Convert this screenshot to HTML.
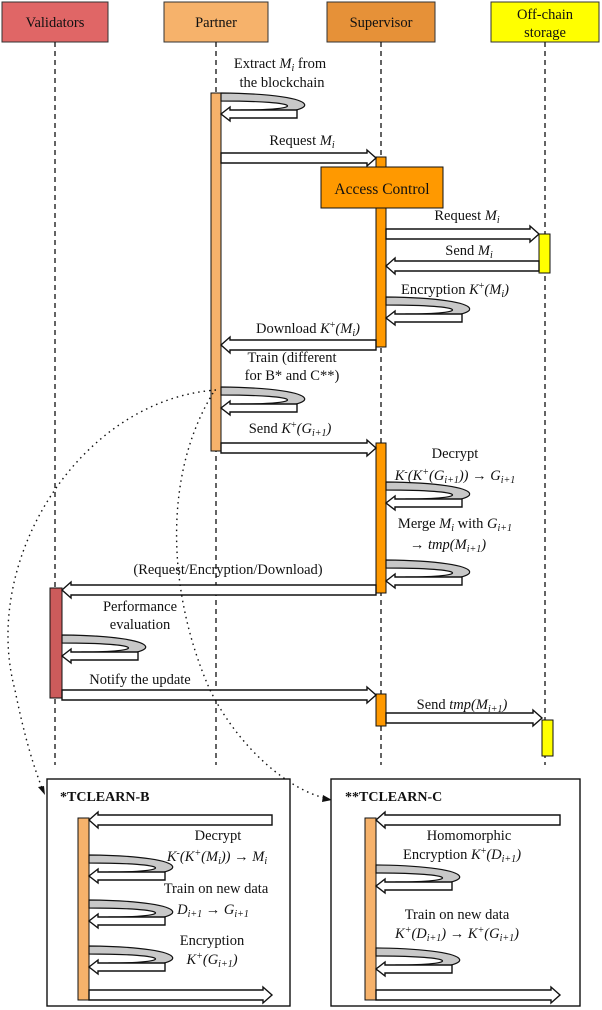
<!DOCTYPE html>
<html><head><meta charset="utf-8"><style>
html,body{margin:0;padding:0;background:#fff;}
svg{display:block;font-family:"Liberation Serif",serif;}
text{font-size:14.5px;fill:#111;}
.i{font-style:italic;}
</style></head><body>
<svg width="602" height="1010" viewBox="0 0 602 1010" xmlns="http://www.w3.org/2000/svg">
<defs>
<g id="loop">
<path d="M0,0 C108,1 108,22 20,21 L20,17 C85,17 85,8 0,8 Z" fill="#c8c8c8" stroke="#111" stroke-width="1.2"/>
<polygon points="0,21 9,14 9,17 76,17 76,25 9,25 9,28" fill="#fff" stroke="#111" stroke-width="1.4"/>
</g>
</defs>
<rect x="2" y="2" width="106" height="40" fill="#e06666" stroke="#333"/>
<text x="55" y="27" text-anchor="middle">Validators</text>
<rect x="164" y="2" width="104" height="40" fill="#f6b26b" stroke="#333"/>
<text x="216" y="27" text-anchor="middle">Partner</text>
<rect x="327" y="2" width="108" height="40" fill="#e69138" stroke="#333"/>
<text x="381" y="27" text-anchor="middle">Supervisor</text>
<rect x="491" y="2" width="108" height="40" fill="#ffff00" stroke="#333"/>
<text x="545" y="19" text-anchor="middle">Off-chain</text>
<text x="545" y="37" text-anchor="middle">storage</text>
<g stroke="#111" stroke-width="1.3" stroke-dasharray="5,4">
<line x1="55" y1="42" x2="55" y2="765"/>
<line x1="216" y1="42" x2="216" y2="765"/>
<line x1="381" y1="42" x2="381" y2="765"/>
<line x1="545" y1="42" x2="545" y2="765"/>
</g>
<rect x="211" y="93" width="10" height="358" fill="#f6b26b" stroke="#111"/>
<rect x="376" y="157" width="10" height="190" fill="#ff9900" stroke="#111"/>
<rect x="376" y="443" width="10" height="150" fill="#ff9900" stroke="#111"/>
<rect x="376" y="694" width="10" height="32" fill="#ff9900" stroke="#111"/>
<rect x="539" y="234" width="11" height="39" fill="#ffff00" stroke="#111"/>
<rect x="542" y="720" width="11" height="36" fill="#ffff00" stroke="#111"/>
<rect x="50" y="588" width="12" height="110" fill="#cc5b5b" stroke="#111"/>
<rect x="321" y="167" width="122" height="41" fill="#ff9900" stroke="#111"/>
<text x="382" y="194" text-anchor="middle" style="font-size:15.5px">Access Control</text>
<g fill="#fff" stroke="#111" stroke-width="1.4">
<polygon points="221,153 367,153 367,150 376,158 367,166 367,163 221,163"/>
<polygon points="386,229 530,229 530,226 539,234 530,242 530,239 386,239"/>
<polygon points="386,266 395,258 395,261 539,261 539,271 395,271 395,274"/>
<polygon points="221,345 230,337 230,340 376,340 376,350 230,350 230,353"/>
<polygon points="221,443 367,443 367,440 376,448 367,456 367,453 221,453"/>
<polygon points="62,590 71,582 71,585 376,585 376,595 71,595 71,598"/>
<polygon points="62,690 367,690 367,687 376,695 367,703 367,700 62,700"/>
<polygon points="386,713 533,713 533,710 542,718 533,726 533,723 386,723"/>
</g>
<use href="#loop" x="221" y="93"/>
<use href="#loop" x="386" y="297"/>
<use href="#loop" x="221" y="387"/>
<use href="#loop" x="386" y="482"/>
<use href="#loop" x="386" y="560"/>
<use href="#loop" x="62" y="635"/>
<text x="280" y="68" text-anchor="middle">Extract <tspan class="i">M<tspan dy="3" font-size="10">i</tspan></tspan><tspan dy="-3"> from</tspan></text>
<text x="282" y="87" text-anchor="middle">the blockchain</text>
<text x="302" y="145" text-anchor="middle">Request <tspan class="i">M<tspan dy="3" font-size="10">i</tspan></tspan></text>
<text x="467" y="220" text-anchor="middle">Request <tspan class="i">M<tspan dy="3" font-size="10">i</tspan></tspan></text>
<text x="469" y="255" text-anchor="middle">Send <tspan class="i">M<tspan dy="3" font-size="10">i</tspan></tspan></text>
<text x="455" y="294" text-anchor="middle">Encryption <tspan class="i">K</tspan><tspan dy="-5" font-size="10">+</tspan><tspan dy="5" class="i">(M<tspan dy="3" font-size="10">i</tspan><tspan dy="-3">)</tspan></tspan></text>
<text x="308" y="333" text-anchor="middle">Download <tspan class="i">K</tspan><tspan dy="-5" font-size="10">+</tspan><tspan dy="5" class="i">(M<tspan dy="3" font-size="10">i</tspan><tspan dy="-3">)</tspan></tspan></text>
<text x="292" y="362" text-anchor="middle">Train (different</text>
<text x="292" y="380" text-anchor="middle">for B* and C**)</text>
<text x="290" y="433" text-anchor="middle">Send <tspan class="i">K</tspan><tspan dy="-5" font-size="10">+</tspan><tspan dy="5" class="i">(G<tspan dy="3" font-size="10">i+1</tspan><tspan dy="-3">)</tspan></tspan></text>
<text x="455" y="458" text-anchor="middle">Decrypt</text>
<text x="455" y="480" text-anchor="middle" class="i">K<tspan dy="-5" font-size="10">-</tspan><tspan dy="5">(K</tspan><tspan dy="-5" font-size="10">+</tspan><tspan dy="5">(G</tspan><tspan dy="3" font-size="10">i+1</tspan><tspan dy="-3">)) → G</tspan><tspan dy="3" font-size="10">i+1</tspan></text>
<text x="455" y="528" text-anchor="middle">Merge <tspan class="i">M<tspan dy="3" font-size="10">i</tspan></tspan><tspan dy="-3"> with </tspan><tspan class="i">G<tspan dy="3" font-size="10">i+1</tspan></tspan></text>
<text x="448" y="549" text-anchor="middle">→ <tspan class="i">tmp(M<tspan dy="3" font-size="10">i+1</tspan><tspan dy="-3">)</tspan></tspan></text>
<text x="228" y="574" text-anchor="middle">(Request/Encryption/Download)</text>
<text x="140" y="611" text-anchor="middle">Performance</text>
<text x="140" y="629" text-anchor="middle">evaluation</text>
<text x="140" y="684" text-anchor="middle">Notify the update</text>
<text x="462" y="709" text-anchor="middle">Send <tspan class="i">tmp(M<tspan dy="3" font-size="10">i+1</tspan><tspan dy="-3">)</tspan></tspan></text>
<g fill="none" stroke="#111" stroke-width="1.4" stroke-dasharray="1.5,4">
<path d="M216,390 C80,400 -20,560 15,690 C25,740 35,770 42,788"/>
<path d="M213,393 C160,480 170,600 210,690 C240,750 290,790 325,798"/>
</g>
<polygon points="45,795 38,787 44,786" fill="#111"/>
<polygon points="332,800 323,795 322,802" fill="#111"/>
<rect x="47" y="779" width="243" height="227" fill="#fff" stroke="#111" stroke-width="1.4"/>
<rect x="331" y="779" width="249" height="227" fill="#fff" stroke="#111" stroke-width="1.4"/>
<text x="60" y="801" font-weight="bold" style="font-size:14px">*TCLEARN-B</text>
<text x="345" y="801" font-weight="bold" style="font-size:14px">**TCLEARN-C</text>
<rect x="78" y="818" width="11" height="182" fill="#f6b26b" stroke="#111"/>
<rect x="365" y="818" width="11" height="182" fill="#f6b26b" stroke="#111"/>
<g fill="#fff" stroke="#111" stroke-width="1.4">
<polygon points="89,820 98,812 98,815 272,815 272,825 98,825 98,828"/>
<polygon points="89,990 263,990 263,987 272,995 263,1003 263,1000 89,1000"/>
<polygon points="376,820 385,812 385,815 560,815 560,825 385,825 385,828"/>
<polygon points="376,990 551,990 551,987 560,995 551,1003 551,1000 376,1000"/>
</g>
<use href="#loop" x="89" y="855"/>
<use href="#loop" x="89" y="900"/>
<use href="#loop" x="89" y="946"/>
<use href="#loop" x="376" y="865"/>
<use href="#loop" x="376" y="948"/>
<text x="218" y="840" text-anchor="middle">Decrypt</text>
<text x="217" y="861" text-anchor="middle" class="i">K<tspan dy="-5" font-size="10">-</tspan><tspan dy="5">(K</tspan><tspan dy="-5" font-size="10">+</tspan><tspan dy="5">(M</tspan><tspan dy="3" font-size="10">i</tspan><tspan dy="-3">)) → M</tspan><tspan dy="3" font-size="10">i</tspan></text>
<text x="216" y="893" text-anchor="middle">Train on new data</text>
<text x="213" y="914" text-anchor="middle" class="i">D<tspan dy="3" font-size="10">i+1</tspan><tspan dy="-3"> → G</tspan><tspan dy="3" font-size="10">i+1</tspan></text>
<text x="212" y="945" text-anchor="middle">Encryption</text>
<text x="212" y="964" text-anchor="middle" class="i">K<tspan dy="-5" font-size="10">+</tspan><tspan dy="5">(G</tspan><tspan dy="3" font-size="10">i+1</tspan><tspan dy="-3">)</tspan></text>
<text x="469" y="840" text-anchor="middle">Homomorphic</text>
<text x="462" y="859" text-anchor="middle">Encryption <tspan class="i">K</tspan><tspan dy="-5" font-size="10">+</tspan><tspan dy="5" class="i">(D<tspan dy="3" font-size="10">i+1</tspan><tspan dy="-3">)</tspan></tspan></text>
<text x="457" y="919" text-anchor="middle">Train on new data</text>
<text x="457" y="938" text-anchor="middle" class="i">K<tspan dy="-5" font-size="10">+</tspan><tspan dy="5">(D</tspan><tspan dy="3" font-size="10">i+1</tspan><tspan dy="-3">) → K</tspan><tspan dy="-5" font-size="10">+</tspan><tspan dy="5">(G</tspan><tspan dy="3" font-size="10">i+1</tspan><tspan dy="-3">)</tspan></text>
</svg>
</body></html>
